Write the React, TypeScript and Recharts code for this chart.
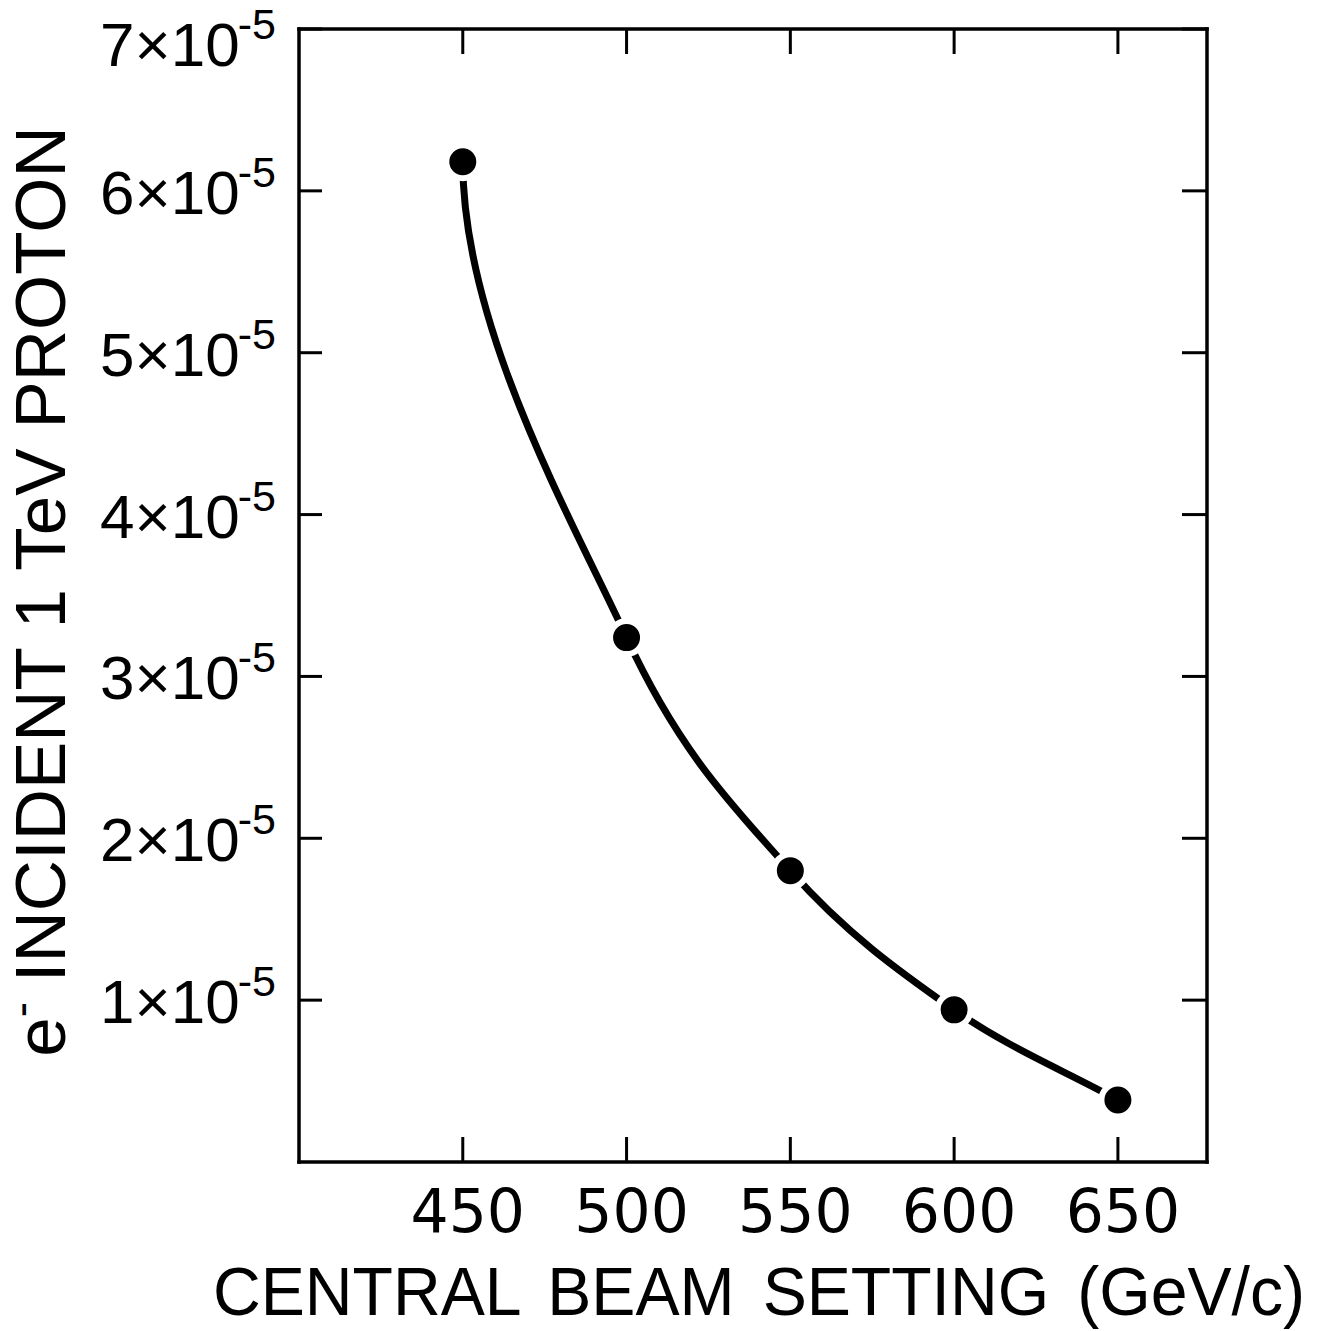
import React from "react";
import { LineChart, Line, XAxis, YAxis, Label } from "recharts";

const beamSettings = [450, 500, 550, 600, 650];
const electronYield = [6.18e-5, 3.24e-5, 1.8e-5, 0.94e-5, 0.383e-5];
const xTicks = [450, 500, 550, 600, 650];
const yTicks = [1e-5, 2e-5, 3e-5, 4e-5, 5e-5, 6e-5, 7e-5];
const xTitle = "CENTRAL BEAM SETTING (GeV/c)";
const yTitleMain = " INCIDENT 1 TeV PROTON";

const data = beamSettings.map((x, i) => ({ x, y: electronYield[i] }));

const INK = "#000";
const SANS = "'Liberation Sans', Arial, sans-serif";
const ROUND = "'DejaVu Sans', sans-serif";

// Hand-drawn style smooth curve (d3 curve factory): Catmull-Rom tangents inside,
// the first segment leaves its point vertically like a french-curve drawing.
const handCurve: any = (context: any) => {
  let pts: number[][] = [];
  return {
    areaStart() {},
    areaEnd() {},
    lineStart() {
      pts = [];
    },
    point(x: number, y: number) {
      pts.push([+x, +y]);
    },
    lineEnd() {
      const n = pts.length;
      if (n === 0) return;
      context.moveTo(pts[0][0], pts[0][1]);
      if (n === 1) return;
      const tan = (i: number) => {
        if (i === 0) return [0, 1.05 * (pts[1][1] - pts[0][1])];
        if (i === n - 1) return [pts[n - 1][0] - pts[n - 2][0], pts[n - 1][1] - pts[n - 2][1]];
        return [(pts[i + 1][0] - pts[i - 1][0]) / 2, (pts[i + 1][1] - pts[i - 1][1]) / 2];
      };
      for (let i = 0; i < n - 1; i++) {
        const t0 = tan(i);
        const t1 = tan(i + 1);
        context.bezierCurveTo(
          pts[i][0] + t0[0] / 3,
          pts[i][1] + t0[1] / 3,
          pts[i + 1][0] - t1[0] / 3,
          pts[i + 1][1] - t1[1] / 3,
          pts[i + 1][0],
          pts[i + 1][1]
        );
      }
    },
  };
};

const BottomTick = (props: any) => {
  const { x, y, payload } = props;
  return (
    <g>
      <line x1={x} y1={y} x2={x} y2={y - 25} stroke={INK} strokeWidth={3} />
      <text x={x + 5} y={y + 70} textAnchor="middle" fontFamily={ROUND} fontSize={60} fill={INK}>
        {payload.value}
      </text>
    </g>
  );
};

const TopTick = (props: any) => {
  const { x, y } = props;
  return <line x1={x} y1={y} x2={x} y2={y + 25} stroke={INK} strokeWidth={3} />;
};

const LeftTick = (props: any) => {
  const { x, y, payload } = props;
  const m = Math.round(payload.value * 1e5);
  const extra = m === 7 ? 14 : 0;
  return (
    <g>
      <line x1={x} y1={y} x2={x + 23} y2={y} stroke={INK} strokeWidth={3} />
      <text x={x - 23} y={y + 23 + extra} textAnchor="end" fontFamily={SANS} fontSize={62} fill={INK}>
        {m}×10
        <tspan dx={-2} dy={-27} fontSize={43}>-5</tspan>
      </text>
    </g>
  );
};

const RightTick = (props: any) => {
  const { x, y } = props;
  return <line x1={x} y1={y} x2={x - 25} y2={y} stroke={INK} strokeWidth={3} />;
};

const XTitle = (props: any) => {
  const vb = props.viewBox || {};
  const cx = vb.x + vb.width / 2 + 6;
  return (
    <text
      x={cx}
      y={vb.y + 153}
      textAnchor="middle"
      fontFamily={SANS}
      fontSize={68}
      fill={INK}
      textLength={1092}
      lengthAdjust="spacingAndGlyphs"
      wordSpacing={10}
    >
      {xTitle}
    </text>
  );
};

const YTitle = (props: any) => {
  const vb = props.viewBox || {};
  const bx = vb.x + 65;
  const cy = vb.y + vb.height / 2 - 4;
  return (
    <text
      x={bx}
      y={cy}
      transform={`rotate(-90, ${bx}, ${cy})`}
      textAnchor="middle"
      fontFamily={SANS}
      fontSize={71}
      fill={INK}
    >
      e<tspan dy={-28} fontSize={46}>-</tspan>
      <tspan dy={28}>{yTitleMain}</tspan>
    </text>
  );
};

const axisLineStyle = { stroke: INK, strokeWidth: 3.5, strokeLinecap: "square" as const };

export default function App() {
  return (
    <div style={{ position: "absolute", left: 0, top: 0, width: 1324, height: 1331, background: "#fff" }}>
      <LineChart
        width={1324}
        height={1331}
        data={data}
        margin={{ top: 28, right: 116, bottom: 0, left: 0 }}
      >
        <XAxis
          dataKey="x"
          type="number"
          domain={[400, 677.2]}
          allowDataOverflow
          ticks={xTicks}
          interval={0}
          height={169}
          tickSize={0}
          tickMargin={0}
          tickLine={false}
          axisLine={axisLineStyle}
          tick={<BottomTick />}
        >
          <Label content={<XTitle />} />
        </XAxis>
        <XAxis
          xAxisId="top"
          orientation="top"
          dataKey="x"
          type="number"
          domain={[400, 677.2]}
          allowDataOverflow
          ticks={xTicks}
          interval={0}
          height={1}
          tickSize={0}
          tickMargin={0}
          tickLine={false}
          axisLine={axisLineStyle}
          tick={<TopTick />}
        />
        <YAxis
          type="number"
          domain={[0, 7e-5]}
          allowDataOverflow
          ticks={yTicks}
          interval={0}
          width={299}
          tickSize={0}
          tickMargin={0}
          tickLine={false}
          axisLine={axisLineStyle}
          tick={<LeftTick />}
        >
          <Label content={<YTitle />} />
        </YAxis>
        <YAxis
          yAxisId="right"
          orientation="right"
          type="number"
          domain={[0, 7e-5]}
          allowDataOverflow
          ticks={yTicks}
          interval={0}
          width={1}
          tickSize={0}
          tickMargin={0}
          tickLine={false}
          axisLine={axisLineStyle}
          tick={<RightTick />}
        />
        <Line
          xAxisId="top"
          yAxisId="right"
          dataKey="y"
          stroke="none"
          dot={false}
          activeDot={false}
          isAnimationActive={false}
        />
        <Line
          dataKey="y"
          type={handCurve}
          stroke={INK}
          strokeWidth={7}
          strokeLinecap="round"
          dot={{ r: 16.5, fill: INK, stroke: "#fff", strokeWidth: 6 }}
          activeDot={false}
          isAnimationActive={false}
        />
      </LineChart>
    </div>
  );
}
